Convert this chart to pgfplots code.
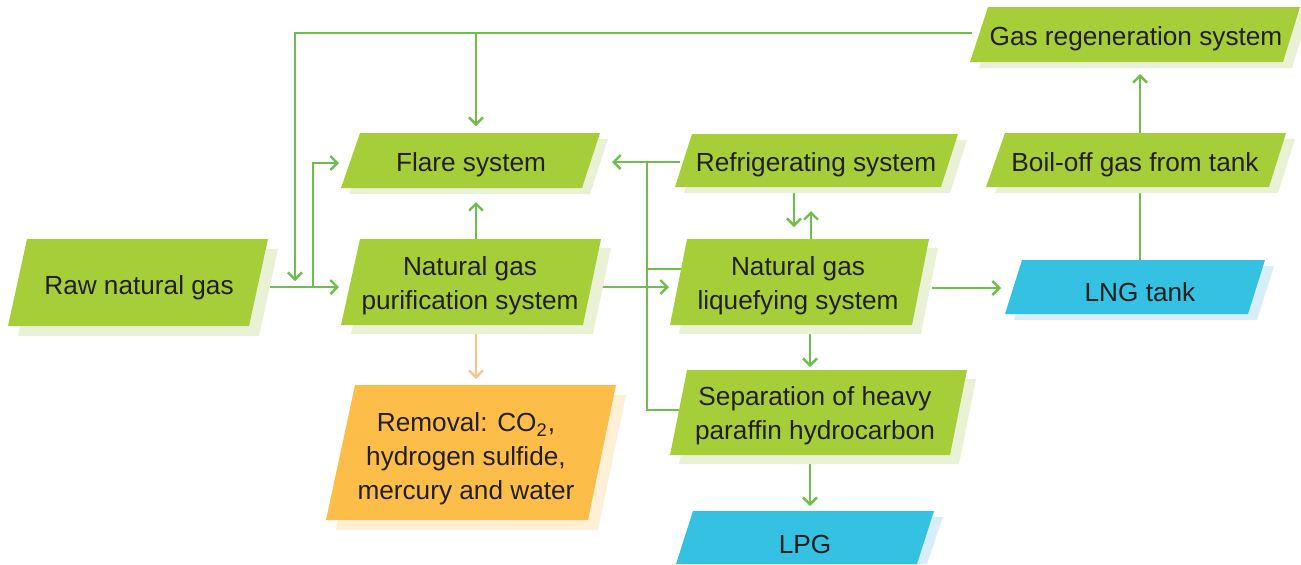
\documentclass[border=0pt]{standalone}
\usepackage{fontspec}
\setmainfont{Liberation Sans}
\usepackage{pgfplots}
\pgfplotsset{compat=1.18}
\usetikzlibrary{arrows.meta}
\definecolor{gmain}{RGB}{166,206,57}
\definecolor{gshad}{RGB}{234,242,214}
\definecolor{omain}{RGB}{252,190,72}
\definecolor{oshad}{RGB}{254,240,214}
\definecolor{bmain}{RGB}{53,193,225}
\definecolor{bshad}{RGB}{214,238,248}
\definecolor{arrg}{RGB}{110,190,75}
\definecolor{arro}{RGB}{250,195,140}
\definecolor{txt}{RGB}{35,31,32}
\tikzset{
  ln/.style={draw=arrg, line width=1.3pt},
  ar/.style={ln, -{Straight Barb[length=3.5pt,width=7pt,line width=1.2pt]}},
  lab/.style={text=txt, align=center, font=\fontsize{13.1}{17}\selectfont, inner sep=0pt}}
\begin{document}
\begin{tikzpicture}
\begin{axis}[scale only axis, width=650.5pt, height=282pt,
  xmin=0, xmax=1301, ymin=0, ymax=564, y dir=reverse,
  hide axis, clip=false]
\path (axis cs:0,0) rectangle (axis cs:1301,564);
% connectors
\addplot[ar, no marks] coordinates {(270,287) (339,287)};
\addplot[ar, no marks] coordinates {(972,33) (295,33) (295,281)};
\addplot[ar, no marks] coordinates {(476,33) (476,126)};
\addplot[ar, no marks] coordinates {(313,287) (313,163) (339,163)};
\addplot[ar, no marks] coordinates {(476,239) (476,202)};
\addplot[ln, no marks, draw=arro, -{Straight Barb[length=3.5pt,width=7pt,line width=1.2pt]}] coordinates {(476,326) (476,379)};
\addplot[ar, no marks] coordinates {(601,287) (669,287)};
\addplot[ar, no marks] coordinates {(680,162) (612,162)};
\addplot[ln, no marks] coordinates {(647,162) (647,410) (680,410)};
\addplot[ln, no marks] coordinates {(647,269) (682,269)};
\addplot[ar, no marks] coordinates {(794,189) (794,227)};
\addplot[ar, no marks] coordinates {(811,239) (811,211)};
\addplot[ar, no marks] coordinates {(932,288) (1001,288)};
\addplot[ar, no marks] coordinates {(810,326) (810,367)};
\addplot[ar, no marks] coordinates {(810,456) (810,506)};
\addplot[ln, no marks] coordinates {(1140,260) (1140,187)};
\addplot[ar, no marks] coordinates {(1140,133) (1140,74)};
% shadows
\addplot[fill=gshad, draw=none] coordinates {(37,249) (278,249) (259,336) (18,336)};
\addplot[fill=gshad, draw=none] coordinates {(368,139) (608,139) (590,194) (349,194)};
\addplot[fill=gshad, draw=none] coordinates {(370,248) (611,248) (593,334) (351,334)};
\addplot[fill=oshad, draw=none] coordinates {(365,395) (626,395) (598,530) (336,530)};
\addplot[fill=gshad, draw=none] coordinates {(701,140) (967,140) (950,193) (684,193)};
\addplot[fill=gshad, draw=none] coordinates {(696,248) (938,248) (921,334) (679,334)};
\addplot[fill=gshad, draw=none] coordinates {(696,379) (976,379) (959,464) (679,464)};
\addplot[fill=bshad, draw=none] coordinates {(702,517) (943,517) (927,564) (686,564)};
\addplot[fill=bshad, draw=none] coordinates {(1031,266) (1274,266) (1257,320) (1014,320)};
\addplot[fill=gshad, draw=none] coordinates {(1014,139) (1295,139) (1278,193) (995,193)};
\addplot[fill=gshad, draw=none] coordinates {(997,13) (1301,13) (1301,39) (1292,68) (979,68)};
% boxes
\addplot[fill=gmain, draw=none] coordinates {(27,239) (268,239) (249,326) (8,326)};
\addplot[fill=gmain, draw=none] coordinates {(360,133) (600,133) (582,188) (341,188)};
\addplot[fill=gmain, draw=none] coordinates {(360,239) (601,239) (583,325) (341,325)};
\addplot[fill=omain, draw=none] coordinates {(355,385) (616,385) (588,520) (326,520)};
\addplot[fill=gmain, draw=none] coordinates {(692,134) (958,134) (941,187) (675,187)};
\addplot[fill=gmain, draw=none] coordinates {(687,239) (929,239) (912,325) (670,325)};
\addplot[fill=gmain, draw=none] coordinates {(687,370) (967,370) (950,455) (670,455)};
\addplot[fill=bmain, draw=none] coordinates {(693,511) (934,511) (917,564) (676,564)};
\addplot[fill=bmain, draw=none] coordinates {(1022,260) (1265,260) (1248,314) (1005,314)};
\addplot[fill=gmain, draw=none] coordinates {(1005,133) (1286,133) (1269,187) (986,187)};
\addplot[fill=gmain, draw=none] coordinates {(988,7) (1300,7) (1283,62) (970,62)};
% labels
\node[lab] at (axis cs:139,288) {Raw natural gas};
\node[lab] at (axis cs:471,165) {Flare system};
\node[lab] at (axis cs:470,286) {Natural gas\\purification system};
\node[lab] at (axis cs:466,459) {Removal: CO\textsubscript{2},\\hydrogen sulfide,\\mercury and water};
\node[lab] at (axis cs:816,165) {Refrigerating system};
\node[lab] at (axis cs:798,286) {Natural gas\\liquefying system};
\node[lab] at (axis cs:815,416) {Separation of heavy\\paraffin hydrocarbon};
\node[lab] at (axis cs:805,544) {LPG};
\node[lab] at (axis cs:1140,292) {LNG tank};
\node[lab] at (axis cs:1135,165) {Boil-off gas from tank};
\node[lab] at (axis cs:1136,39) {Gas regeneration system};
\end{axis}
\end{tikzpicture}
\end{document}
